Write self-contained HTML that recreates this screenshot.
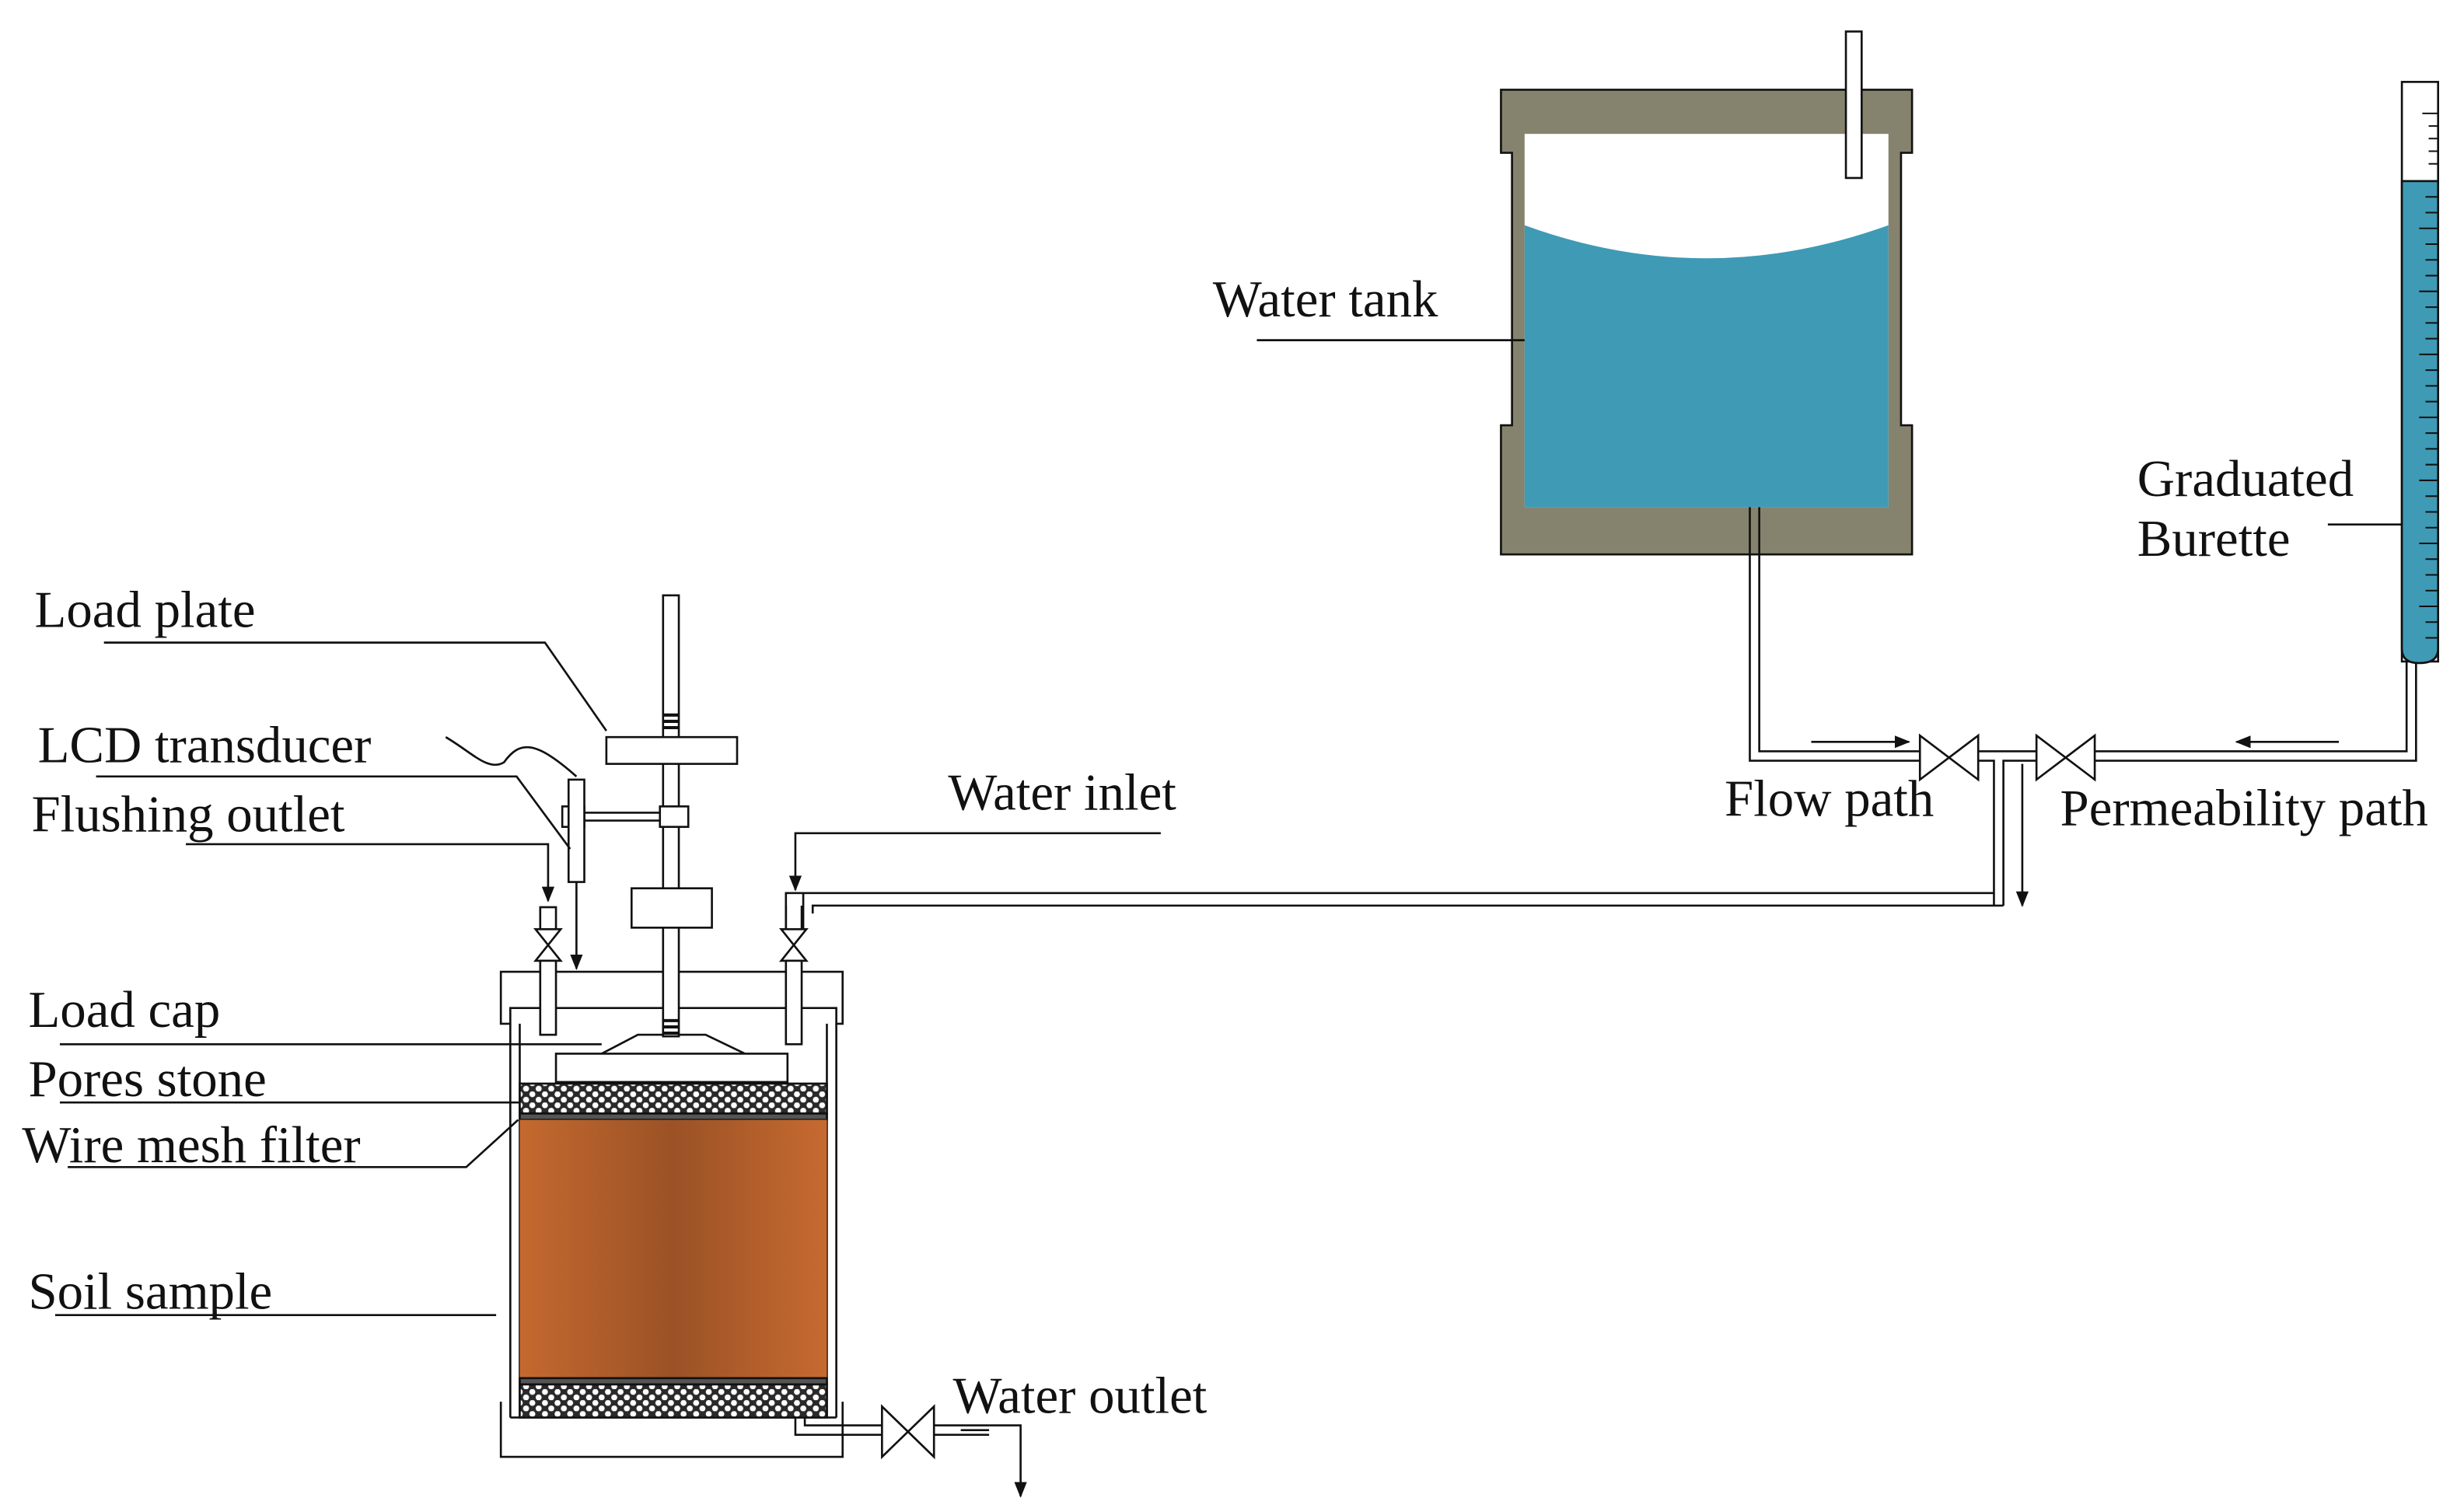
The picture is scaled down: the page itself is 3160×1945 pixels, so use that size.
<!DOCTYPE html>
<html><head><meta charset="utf-8"><style>
html,body{margin:0;padding:0;background:#fff}
svg{display:block}
text{font-family:"Liberation Serif",serif;font-size:33px;fill:#111}
</style></head><body>
<svg width="3160" height="1945" viewBox="0 0 1560 960" preserveAspectRatio="none" xmlns="http://www.w3.org/2000/svg">
<defs>
<pattern id="stone" width="8" height="7" patternUnits="userSpaceOnUse">
<rect width="8" height="7" fill="#2a2a2a"/>
<circle cx="2" cy="1.75" r="1.9" fill="#fff"/>
<circle cx="6" cy="5.25" r="1.9" fill="#fff"/>
</pattern>
<linearGradient id="soil" x1="0" x2="1" y1="0" y2="0">
<stop offset="0" stop-color="#c4692f"/>
<stop offset="0.5" stop-color="#9b5226"/>
<stop offset="1" stop-color="#c66a30"/>
</linearGradient>
<marker id="ar" markerWidth="10" markerHeight="8" refX="9" refY="4" orient="auto" markerUnits="userSpaceOnUse">
<path d="M0,0 L10,4 L0,8 Z" fill="#111"/>
</marker>
</defs>
<g stroke="#111" stroke-width="1.3" fill="none">

<path d="M953,57 H1214 V97 H1207 V270 H1214 V352 H953 V270 H960 V97 H953 Z" fill="#85836d"/>
<rect x="968" y="85" width="231" height="237" fill="#fff" stroke="none"/>
<path d="M968,143 Q1083,185 1199,143 V322 H968 Z" fill="#3f9ab5" stroke="none"/>
<rect x="1172" y="20" width="10" height="93" fill="#fff"/>
<path d="M1111,322 V483 H1220"/>
<path d="M1117,322 V477 H1220"/>
<path d="M1219,467 L1256,495 V467 L1219,495 Z" fill="#fff"/>
<path d="M1256,477 H1293"/>
<path d="M1256,483 H1266 V575"/>
<path d="M1293,483 H1272 V575"/>
<path d="M1293,467 L1330,495 V467 L1293,495 Z" fill="#fff"/>
<path d="M1330,477 H1528 V420"/>
<path d="M1330,483 H1534 V420"/>
<rect x="1525" y="52" width="23" height="368" fill="#fff"/>
<path d="M1525,115 H1548 V412 Q1548,421 1536,421 Q1525,421 1525,412 Z" fill="#3f9ab5"/>
<g stroke-width="1">
<path d="M1538,72 H1548 M1542,80 H1548 M1542,88 H1548 M1542,96 H1548 M1542,104 H1548"/>
<path d="M1540,125H1548M1540,135H1548M1536,145H1548M1540,155H1548M1540,165H1548M1540,175H1548M1536,185H1548M1540,195H1548M1540,205H1548M1540,215H1548M1536,225H1548M1540,235H1548M1540,245H1548M1540,255H1548M1536,265H1548M1540,275H1548M1540,285H1548M1540,295H1548M1536,305H1548M1540,315H1548M1540,325H1548M1540,335H1548M1536,345H1548M1540,355H1548M1540,365H1548M1540,375H1548M1536,385H1548M1540,395H1548M1540,405H1548"/>
</g>
<path d="M1150,471 H1212" marker-end="url(#ar)"/>
<path d="M1485,471 H1420" marker-end="url(#ar)"/>
<path d="M1284,485 V575" marker-end="url(#ar)"/>
<path d="M1266,567 H510 V590"/>
<path d="M1272,575 H516 V580 M499,590 V567 H510"/>
<path d="M499,575 V590 M509,575 V590"/>

<path d="M318,890 V925 H535 V890"/>
<path d="M324,650 V900 M531,650 V900 M330,650 V900 M525,650 V900"/>
<path d="M324,900 H531"/>
<path d="M318,617 H535 V650 H531 V640 H324 V650 H318 Z" fill="#fff"/>
<rect x="353" y="669" width="147" height="18" fill="#fff"/>
<path d="M382,669 L405,657 H448 L473,669"/>
<rect x="330" y="688" width="195" height="19" fill="url(#stone)"/>
<rect x="330" y="707" width="195" height="4" fill="#555"/>
<rect x="330" y="711" width="195" height="164" fill="url(#soil)" stroke="none"/>
<rect x="330" y="875" width="195" height="4" fill="#555"/>
<rect x="330" y="879" width="195" height="21" fill="url(#stone)"/>
<rect x="421" y="378" width="10" height="280" fill="#fff"/>
<path d="M421,454 H431 M421,458 H431 M421,462 H431 M421,648 H431 M421,652 H431 M421,656 H431" stroke-width="2"/>
<rect x="385" y="468" width="83" height="17" fill="#fff"/>
<rect x="401" y="564" width="51" height="25" fill="#fff"/>
<path d="M370,516 H421 M370,521 H421"/>
<rect x="357" y="512" width="14" height="13" fill="#fff"/>
<rect x="419" y="512" width="18" height="13" fill="#fff"/>
<rect x="361" y="495" width="10" height="65" fill="#fff"/>
<path d="M283,468 C300,478 310,490 320,484 C330,470 340,470 366,493"/>
<path d="M366,560 V615" marker-end="url(#ar)"/>
<rect x="343" y="576" width="10" height="14" fill="#fff"/>
<path d="M340,590 L356,610 H340 L356,590 Z" fill="#fff"/>
<rect x="343" y="610" width="10" height="47" fill="#fff"/>
<path d="M496,590 L512,610 H496 L512,590 Z" fill="#fff"/>
<rect x="499" y="610" width="10" height="53" fill="#fff"/>
<path d="M505,900 V911 H560 M511,900 V905 H560"/>
<path d="M560,893 L593,925 V893 L560,925 Z" fill="#fff"/>
<path d="M593,905 H628 M593,911 H628 M610,908 H628"/>
<path d="M628,905 H648 V950" marker-end="url(#ar)"/>

<path d="M66,408 H346 L385,464"/>
<path d="M61,493 H328 L362,539"/>
<path d="M118,536 H348 V572" marker-end="url(#ar)"/>
<path d="M38,663 H382"/>
<path d="M38,700 H330"/>
<path d="M43,741 H296 L329,711"/>
<path d="M35,835 H315"/>
<path d="M737,529 H505 V565" marker-end="url(#ar)"/>
<path d="M798,216 H968"/>
<path d="M1478,333 H1525"/>
</g>

<text x="22" y="398">Load plate</text>
<text x="24" y="484">LCD transducer</text>
<text x="20" y="528">Flushing outlet</text>
<text x="18" y="652">Load cap</text>
<text x="18" y="696">Pores stone</text>
<text x="14" y="738">Wire mesh filter</text>
<text x="18" y="831">Soil sample</text>
<text x="602" y="514">Water inlet</text>
<text x="605" y="897">Water outlet</text>
<text x="770" y="201">Water tank</text>
<text x="1357" y="315">Graduated</text>
<text x="1357" y="353">Burette</text>
<text x="1095" y="518">Flow path</text>
<text x="1308" y="524">Permeability path</text>
</svg>
</body></html>
